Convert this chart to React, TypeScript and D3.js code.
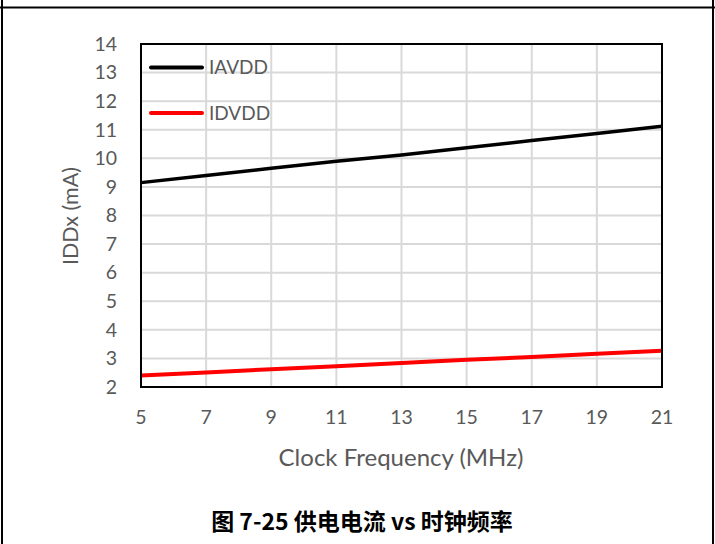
import React from "react";
import * as d3 from "d3";

const freqs = [5, 7, 9, 11, 13, 15, 17, 19, 21];
const iavdd = [9.15, 9.4, 9.65, 9.9, 10.12, 10.37, 10.62, 10.87, 11.12];
const idvdd = [2.4, 2.51, 2.62, 2.73, 2.84, 2.95, 3.05, 3.16, 3.27];
const yTicks = [2, 3, 4, 5, 6, 7, 8, 9, 10, 11, 12, 13, 14];
const xTicks = [5, 7, 9, 11, 13, 15, 17, 19, 21];
const seriesNames = ["IAVDD", "IDVDD"];
const seriesColors = ["#000000", "#ff0000"];
const xTitle = "Clock Frequency (MHz)";
const yTitle = "IDDx (mA)";
const caption = "图 7-25 供电电流 vs 时钟频率";

const W = 715;
const H = 544;
const m = { left: 141, right: 662, top: 44, bottom: 387 };
const font = "Lato, 'Open Sans', sans-serif";
const grey = "#595959";

export default function App() {
  const x = d3.scaleLinear().domain([5, 21]).range([m.left, m.right]);
  const y = d3.scaleLinear().domain([2, 14]).range([m.bottom, m.top]);
  const line = d3
    .line<[number, number]>()
    .x((d) => x(d[0]))
    .y((d) => y(d[1]));
  const series = [iavdd, idvdd];

  return (
    <svg
      width={W}
      height={H}
      style={{ position: "absolute", left: 0, top: 0, background: "#fff" }}
    >
      <rect x={0} y={0} width={W} height={H} fill="#fff" />
      {/* frame */}
      <line x1={0} x2={W} y1={7.5} y2={7.5} stroke="#000" strokeWidth={2} />
      <line x1={2} x2={2} y1={0} y2={H} stroke="#000" strokeWidth={2} />
      <line x1={713} x2={713} y1={0} y2={H} stroke="#000" strokeWidth={2} />

      {/* gridlines */}
      {xTicks.map((t) => (
        <line key={"gx" + t} x1={x(t)} x2={x(t)} y1={m.top} y2={m.bottom} stroke="#d9d9d9" strokeWidth={2} />
      ))}
      {yTicks.map((t) => (
        <line key={"gy" + t} x1={m.left} x2={m.right} y1={y(t)} y2={y(t)} stroke="#d9d9d9" strokeWidth={2} />
      ))}

      {/* series */}
      {series.map((s, i) => (
        <path
          key={"s" + i}
          d={line(freqs.map((f, j) => [f, s[j]] as [number, number])) || ""}
          fill="none"
          stroke={seriesColors[i]}
          strokeWidth={i === 0 ? 3.5 : 4}
        />
      ))}

      {/* plot box */}
      <rect x={m.left} y={m.top} width={m.right - m.left} height={m.bottom - m.top} fill="none" stroke="#000" strokeWidth={2} />

      {/* legend */}
      {seriesNames.map((n, i) => (
        <g key={"lg" + i}>
          <line
            x1={151}
            x2={202}
            y1={67.5 + i * 45.5}
            y2={67.5 + i * 45.5}
            stroke={seriesColors[i]}
            strokeWidth={4}
            strokeLinecap="round"
          />
          <text x={209} y={67.5 + i * 45.5} dy="0.35em" fontFamily={font} fontSize={19} fill={grey}>
            {n}
          </text>
        </g>
      ))}

      {/* y tick labels */}
      {yTicks.map((t) => (
        <text key={"yl" + t} x={117} y={y(t)} dy="0.35em" textAnchor="end" fontFamily={font} fontSize={19.5} fill={grey}>
          {t}
        </text>
      ))}
      {/* x tick labels */}
      {xTicks.map((t) => (
        <text key={"xl" + t} x={x(t)} y={417} dy="0.35em" textAnchor="middle" fontFamily={font} fontSize={19.5} fill={grey}>
          {t}
        </text>
      ))}

      {/* axis titles */}
      <text x={401} y={458} dy="0.35em" textAnchor="middle" fontFamily={font} fontSize={24} fill={grey}>
        {xTitle}
      </text>
      <text
        transform={`translate(70, 216) rotate(-90)`}
        dy="0.35em"
        textAnchor="middle"
        fontFamily={font}
        fontSize={21.5}
        fill={grey}
      >
        {yTitle}
      </text>

      {/* caption */}
      <text
        x={362}
        y={522}
        dy="0.35em"
        textAnchor="middle"
        fontFamily="'Noto Sans CJK SC', sans-serif"
        fontWeight="bold"
        fontSize={23}
        fill="#000"
      >
        {caption}
      </text>
    </svg>
  );
}
